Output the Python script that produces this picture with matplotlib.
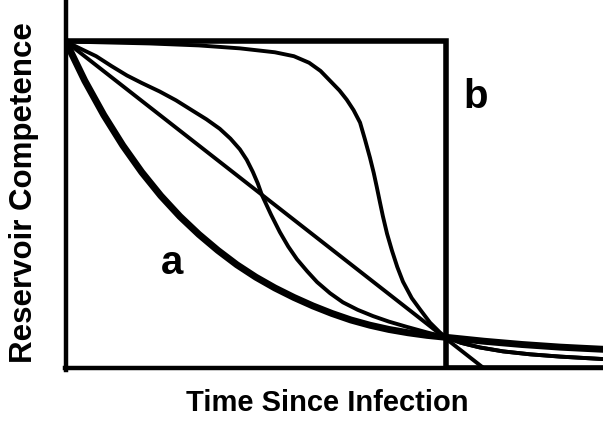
import matplotlib
matplotlib.use("Agg")
import matplotlib.pyplot as plt

# values (time in units of the infectious period T)
step_t = [0.0, 1.0, 1.0, 1.42]
step_y = [1.0, 1.0, 0.0, 0.0]

linear_t = [0.0, 1.1]
linear_y = [1.0, 0.0]

exp_t = [0.0, 0.05, 0.1, 0.15, 0.2, 0.25, 0.3, 0.35, 0.4, 0.45, 0.5,
         0.55, 0.6, 0.65, 0.7, 0.75, 0.8, 0.85, 0.9, 0.95, 1.0,
         1.05, 1.1, 1.15, 1.2, 1.25, 1.3, 1.35, 1.42]
exp_y = [1.0, 0.88, 0.775, 0.682, 0.600, 0.528, 0.465, 0.410, 0.361, 0.317, 0.279,
         0.246, 0.217, 0.191, 0.168, 0.148, 0.132, 0.119, 0.109, 0.101, 0.095,
         0.089, 0.083, 0.078, 0.073, 0.069, 0.065, 0.062, 0.058]

mid_t = [0.0, 0.037, 0.08, 0.12, 0.161, 0.2, 0.247, 0.29, 0.334, 0.37, 0.405,
         0.433, 0.458, 0.476, 0.492, 0.505, 0.516, 0.54, 0.563, 0.585, 0.608,
         0.635, 0.661, 0.695, 0.729, 0.768, 0.808, 0.85, 0.897, 0.95, 1.0,
         1.04, 1.089, 1.15, 1.221, 1.3, 1.42]
mid_y = [1.0, 0.979, 0.955, 0.925, 0.896, 0.873, 0.847, 0.82, 0.788, 0.762, 0.733,
         0.703, 0.670, 0.638, 0.601, 0.566, 0.530, 0.47, 0.417, 0.373, 0.334,
         0.297, 0.264, 0.23, 0.202, 0.179, 0.160, 0.143, 0.127, 0.11, 0.095,
         0.078, 0.064, 0.052, 0.043, 0.036, 0.028]

late_t = [0.0, 0.221, 0.35, 0.458, 0.55, 0.6, 0.64, 0.67, 0.695, 0.72, 0.739,
          0.757, 0.774, 0.787, 0.8, 0.81, 0.818, 0.826, 0.834, 0.845, 0.858,
          0.872, 0.887, 0.91, 0.932, 0.958, 0.984, 1.0,
          1.04, 1.089, 1.15, 1.221, 1.3, 1.42]
late_y = [1.0, 0.994, 0.988, 0.979, 0.967, 0.955, 0.935, 0.91, 0.880, 0.85, 0.822,
          0.79, 0.752, 0.70, 0.645, 0.598, 0.555, 0.51, 0.466, 0.412, 0.36,
          0.31, 0.265, 0.215, 0.18, 0.14, 0.110, 0.095,
          0.078, 0.064, 0.052, 0.043, 0.036, 0.028]

fig = plt.figure(figsize=(6.03, 4.27), dpi=100)
ax = fig.add_axes([65 / 603, (427 - 371) / 427, 1 - 65 / 603, 371 / 427])

ax.plot(step_t, step_y, color='black', lw=4.0, solid_joinstyle='miter')
ax.plot(exp_t, exp_y, color='black', lw=5.0)
ax.plot(linear_t, linear_y, color='black', lw=2.8)
ax.plot(mid_t, mid_y, color='black', lw=2.8)
ax.plot(late_t, late_y, color='black', lw=2.8)

ax.set_xlim(-0.002, 1.413)
ax.set_ylim(-0.005, 1.13)

for s in ['top', 'right']:
    ax.spines[s].set_visible(False)
for s in ['left', 'bottom']:
    ax.spines[s].set_linewidth(3.2)
ax.spines['left'].set_position(('data', 0))
ax.spines['bottom'].set_position(('data', 0))
ax.set_xticks([])
ax.set_yticks([])

font = dict(family='Liberation Sans', weight='bold')
ax.set_xlabel('Time Since Infection', fontsize=21, **font)
ax.set_ylabel('Reservoir Competence', fontsize=22.5, **font)
ax.xaxis.set_label_coords(0.487, -0.086)
ax.xaxis.label.set_va('center')
ax.yaxis.set_label_coords(-0.076, 0.48)
ax.yaxis.label.set_va('center')

ax.text(0.279, 0.325, 'a', fontsize=29, ha='center', va='center', **font)
ax.text(1.079, 0.834, 'b', fontsize=29, ha='center', va='center', **font)

fig.savefig('out.png', dpi=100)
